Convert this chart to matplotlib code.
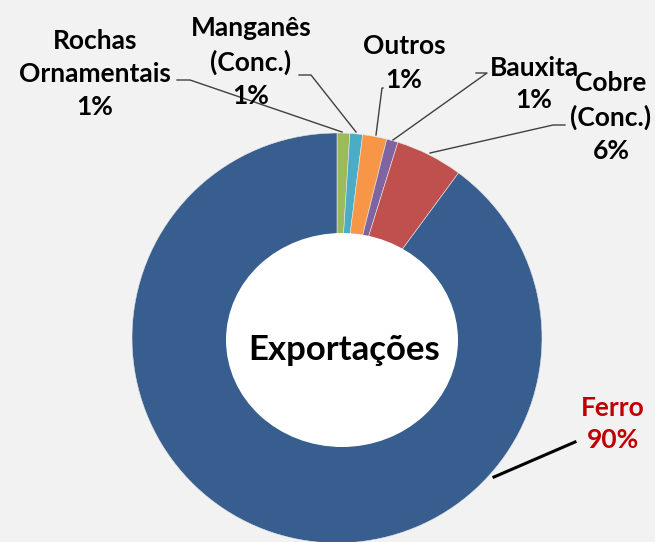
import matplotlib
matplotlib.use('Agg')
import matplotlib.pyplot as plt
from matplotlib.patches import Ellipse

plt.rcParams['font.family'] = ['Lato', 'DejaVu Sans']

# 数据（顺时针，从正上方开始）
categories = ['Rochas\nOrnamentais', 'Manganês\n(Conc.)', 'Outros', 'Bauxita', 'Cobre\n(Conc.)', 'Ferro']
values = [1.0, 1.0, 1.9, 0.9, 5.3, 89.9]
pct_labels = ['1%', '1%', '1%', '1%', '6%', '90%']
colors = ['#9BBB59', '#4BACC6', '#F79646', '#8064A2', '#C0504D', '#385E8F']

W, H = 655, 542


def py(y):
    # 像素坐标（从上往下） -> 数据坐标
    return H - y


fig = plt.figure(figsize=(6.55, 5.42), dpi=100)
fig.patch.set_facecolor('#f2f2f2')
ax = fig.add_axes([0, 0, 1, 1])
ax.set_facecolor('#f2f2f2')

cx, cy, r_out = 337, 338, 205
ax.pie(values, colors=colors, startangle=90, counterclock=False,
       radius=r_out, center=(cx, py(cy)),
       wedgeprops=dict(width=110, edgecolor='#e8e8e8', linewidth=0.4))
# 中心白色空洞（原图略呈椭圆）
ax.add_patch(Ellipse((342, py(340)), 232, 214, facecolor='white', edgecolor='none', zorder=3))
ax.text(344, py(350), 'Exportações', ha='center', va='center',
        fontsize=25, fontweight='bold', color='black', zorder=4)

# 标签位置与引导线（像素）
label_pos = [(95, 74), (251, 62), (404, 63), (534, 84), (611, 117), (613, 424)]
leaders = [
    [(177, 80), (190, 80), (342, 132)],
    [(299, 75), (311, 75), (356, 132)],
    [(383, 88), (382, 88), (376, 135)],
    [(476, 73), (487, 73), (393, 140)],
    [(565, 125), (553, 125), (430, 153)],
    [(575, 442), (575, 442), (494, 477)],
]

for i, (name, pct) in enumerate(zip(categories, pct_labels)):
    x, y = label_pos[i]
    col = '#C00000' if name == 'Ferro' else 'black'
    ax.text(x, py(y), name + '\n' + pct, ha='center', va='center',
            fontsize=19, fontweight='bold', color=col, linespacing=1.45, zorder=5)
    pts = leaders[i]
    lw = 2.2 if name == 'Ferro' else 1.0
    lc = 'black' if name == 'Ferro' else '#404040'
    ax.plot([p[0] for p in pts], [py(p[1]) for p in pts], color=lc, lw=lw, zorder=2)

ax.set_xlim(0, W)
ax.set_ylim(0, H)
ax.set_aspect('equal')
ax.axis('off')

fig.savefig('out.png', dpi=100, facecolor=fig.get_facecolor())
